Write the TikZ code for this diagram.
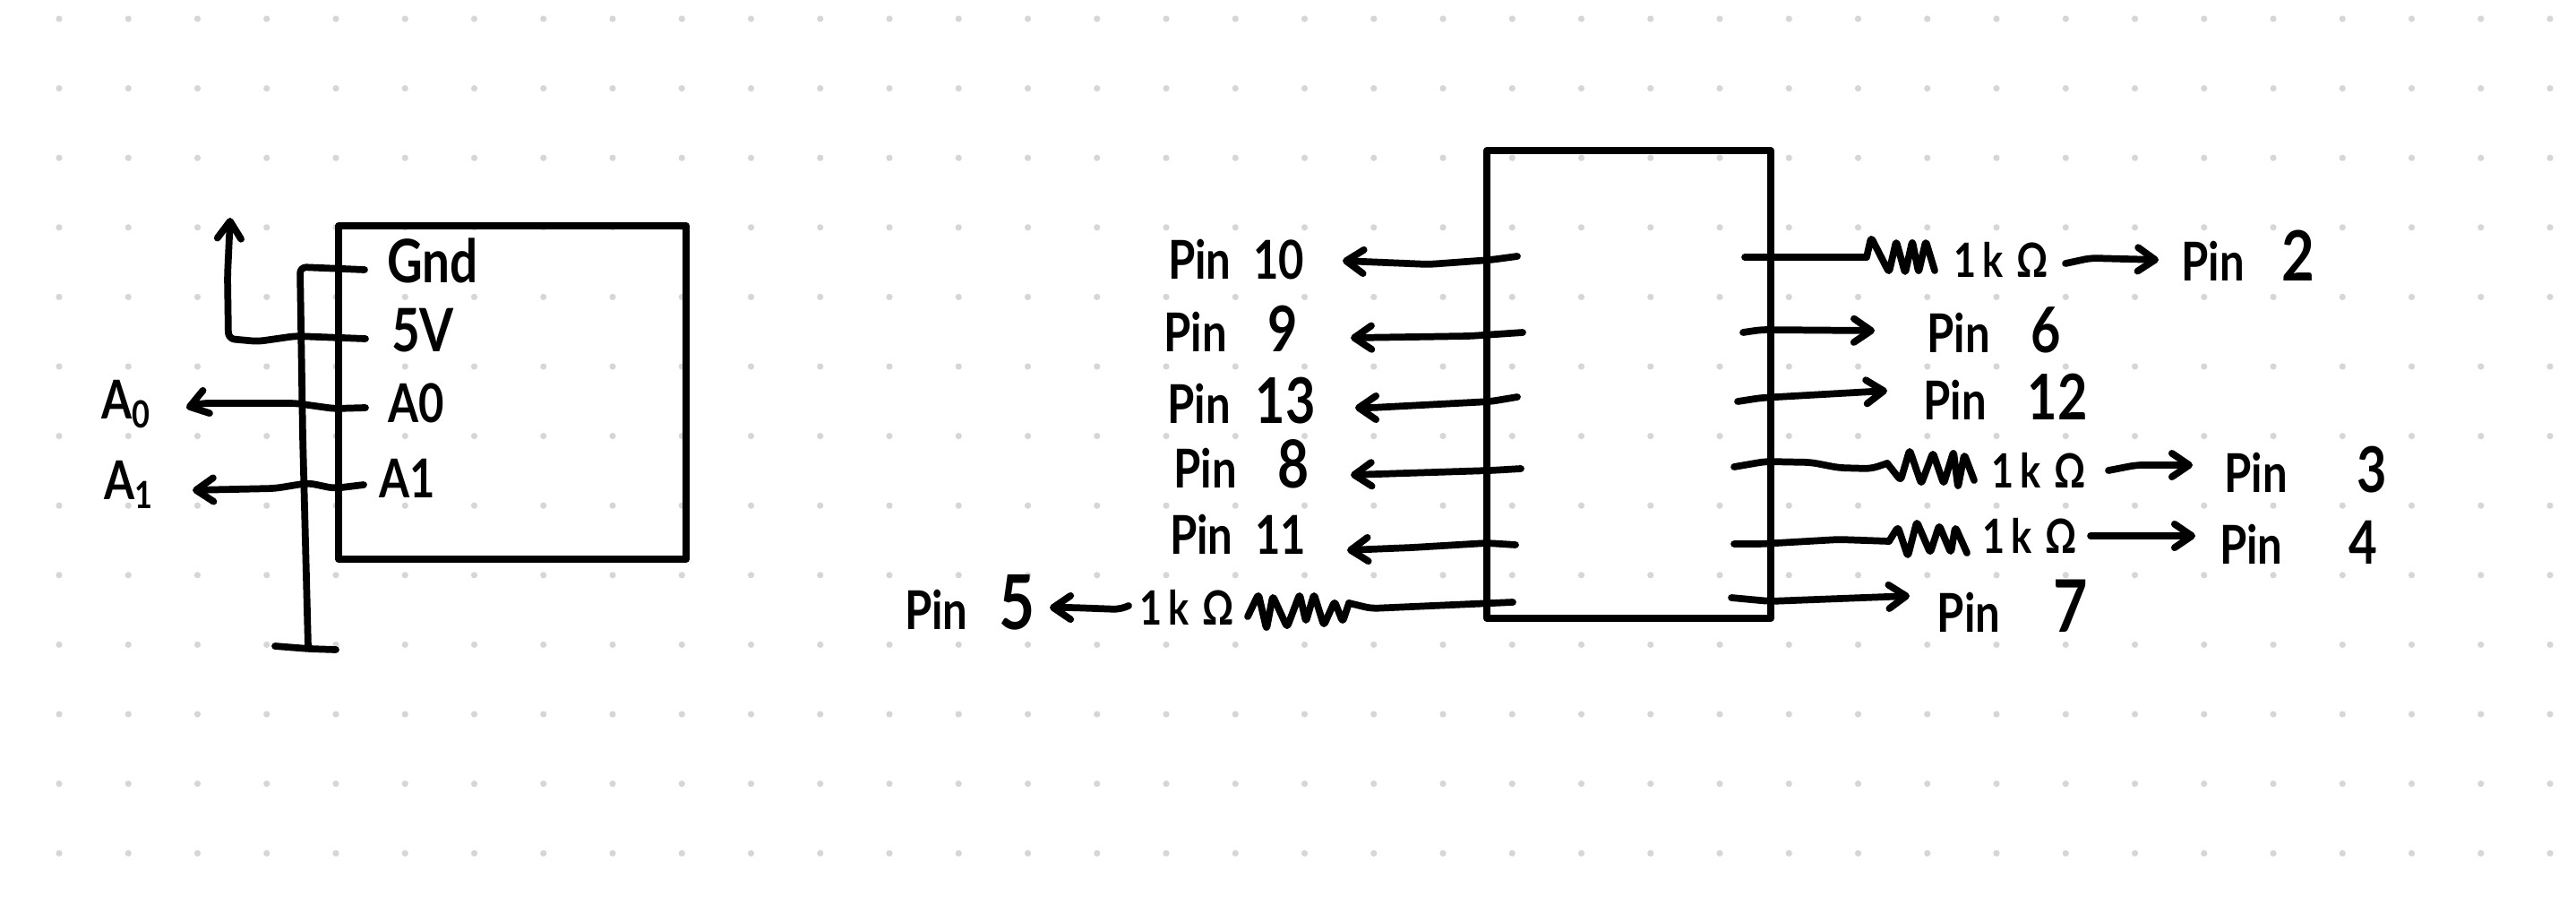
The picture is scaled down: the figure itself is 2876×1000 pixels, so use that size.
\documentclass[tikz,border=0pt]{standalone}
\usepackage{fontspec}
\usepackage{xcolor}
\setmainfont{Lato}[FakeStretch=0.82]
\usetikzlibrary{
    arrows.meta,
    positioning
}
\definecolor{griddotC}{RGB}{214,214,214}
\newcommand{\dg}[2]{{\fontsize{#1}{#1}\selectfont #2}}
\tikzset{
  griddot/.style = {fill=griddotC},
  chip/.style    = {draw, line width=2.2pt, line join=round, outer sep=0pt, inner sep=0pt},
  wire/.style    = {line width=2.2pt, line cap=round, line join=round, rounded corners=2pt},
  zig/.style     = {line width=2.2pt, line cap=round, line join=round, rounded corners=1pt},
  lbl/.style     = {inner sep=0pt, font=\fontsize{17}{19}\selectfont\bfseries},
  slbl/.style    = {inner sep=0pt, font=\fontsize{15}{17}\selectfont\bfseries}
}
\newcommand{\ohm}{1\hspace{2pt}k\hspace{4pt}Ω}
\begin{document}
\begin{tikzpicture}[x=0.01cm, y=-0.01cm,
    >={Straight Barb[round, length=5.5pt, width=7.5pt]}]
  \useasboundingbox (0,0) rectangle (2876,1000);

  %% ── Dot grid ──────────────────────────────────────────────────
  \foreach \col in {0,...,36} {
    \foreach \row in {0,...,12} {
      \fill[griddot] ({66+77.25*\col},{21+77.6*\row}) circle (0.036cm);
    }
  }

  %% ── Boxes ─────────────────────────────────────────────────────
  \node[chip, minimum width=3.88cm, minimum height=3.72cm] (sensor) at (572,438) {};
  \node[chip, minimum width=3.17cm, minimum height=5.22cm] (driver) at (1818.5,429) {};

  %% ── Left box labels ───────────────────────────────────────────
  \node[lbl, font=\fontsize{19}{21}\selectfont\bfseries] (gndL) at (483,291) {Gnd};
  \node[lbl, font=\fontsize{19}{21}\selectfont\bfseries] (fiveL) at (472,369) {5V};
  \node[lbl] (aZeroL) at (465,450) {A0};
  \node[lbl] (aOneL) at (455,534) {A1};
  \node[lbl] (aZeroOut) at (141,451) {A\textsubscript{0}};
  \node[lbl] (aOneOut) at (144,541) {A\textsubscript{1}};

  %% ── Left box wires ────────────────────────────────────────────
  \coordinate (gndIn)   at (407,301);
  \coordinate (gndBot)  at (344,722);
  \coordinate (gndBarA) at (307,721);
  \coordinate (gndBarB) at (375,725);
  \coordinate (fiveIn)  at (408,378);
  \coordinate (fiveTip) at (257,243);
  \coordinate (aZeroIn) at (408,455);
  \coordinate (aZeroTip) at (208,455);
  \coordinate (aOneIn)  at (406,541);
  \coordinate (aOneTip) at (215,547);

  \draw[wire] (gndIn) -- (335,298) -- (338,487) -- (gndBot);
  \draw[wire] (gndBarA) -- (345,724) -- (gndBarB);
  \draw[wire, ->] (fiveIn) -- (330,375) -- (288,381) -- (255,378) -- (254,308) -- (fiveTip);
  \draw[wire, ->] (aZeroIn) -- (373,456) -- (330,450) -- (225,450) -- (aZeroTip);
  \draw[wire, ->] (aOneIn) -- (373,545) -- (344,539) -- (307,545) -- (aOneTip);

  %% ── Right box, left side labels ───────────────────────────────
  \node[lbl] (pinTen) at (1380,290) {Pin\hspace{7pt}10};
  \node[lbl] (pinNine) at (1374,367) {Pin\hspace{13pt}\dg{20}{9}};
  \node[lbl] (pinThirteen) at (1386,447) {Pin\hspace{8pt}\dg{20}{13}};
  \node[lbl] (pinEight) at (1386,518) {Pin\hspace{13pt}\dg{21}{8}};
  \node[lbl] (pinEleven) at (1382,596) {Pin\hspace{7pt}11};
  \node[lbl] (pinFive) at (1083,672) {Pin\hspace{10pt}\dg{24}{5}};
  \node[slbl] (ohmFive) at (1325,678) {\ohm};

  %% ── Right box, left side wires ────────────────────────────────
  \coordinate (tenIn)      at (1694,286);
  \coordinate (tenTip)     at (1499,291);
  \coordinate (nineIn)     at (1700,371);
  \coordinate (nineTip)    at (1508,377);
  \coordinate (thirteenIn) at (1694,443);
  \coordinate (thirteenTip) at (1513,455);
  \coordinate (eightIn)    at (1698,523);
  \coordinate (eightTip)   at (1508,530);
  \coordinate (elevenIn)   at (1692,608);
  \coordinate (elevenTip)  at (1504,614);
  \coordinate (fiveOutIn)  at (1689,672);
  \coordinate (fiveRes)    at (1506,673);
  \coordinate (fiveFrom)   at (1260,676);
  \coordinate (fiveOutTip) at (1172,678);

  \draw[wire, ->] (tenIn) -- (1664,290) -- (1595,295) -- (tenTip);
  \draw[wire, ->] (nineIn) -- (1641,375) -- (1577,376) -- (nineTip);
  \draw[wire, ->] (thirteenIn) -- (1664,448) -- (1531,455) -- (thirteenTip);
  \draw[wire, ->] (eightIn) -- (1664,525) -- (eightTip);
  \draw[wire, ->] (elevenIn) -- (1660,606) -- (1577,611) -- (elevenTip);
  \draw[wire] (fiveOutIn) -- (1531,679) -- (fiveRes);
  \draw[zig] (fiveRes) -- (1499,694) -- (1490,671) -- (1478,698) -- (1467,663)
    -- (1458,694) -- (1451,663) -- (1437,700) -- (1421,665) -- (1414,702)
    -- (1405,663) -- (1393,688);
  \draw[wire, ->] (fiveFrom) -- (1250,680) -- (1196,678) -- (fiveOutTip);

  %% ── Right box, right side labels ──────────────────────────────
  \node[slbl] (ohmTwo) at (2234,290) {\ohm};
  \node[lbl] (pinTwo) at (2510,285) {Pin\hspace{12pt}\dg{22}{2}};
  \node[lbl] (pinSix) at (2226,368) {Pin\hspace{13pt}\dg{20}{6}};
  \node[lbl] (pinTwelve) at (2239,443) {Pin\hspace{13pt}\dg{20}{12}};
  \node[slbl] (ohmThree) at (2276,525) {\ohm};
  \node[lbl] (pinThree) at (2574,524) {Pin\hspace{22pt}\dg{20}{3}};
  \node[slbl] (ohmFour) at (2266,598) {\ohm};
  \node[lbl] (pinFour) at (2566,605) {Pin\hspace{21pt}\dg{19}{4}};
  \node[lbl] (pinSeven) at (2247,676) {Pin\hspace{17pt}\dg{23}{7}};

  %% ── Right box, right side wires ───────────────────────────────
  \coordinate (twoIn)     at (1948,287);
  \coordinate (twoRes)    at (2084,287);
  \coordinate (twoFrom)   at (2306,294);
  \coordinate (twoTip)    at (2410,290);
  \coordinate (sixIn)     at (1946,371);
  \coordinate (sixTip)    at (2093,369);
  \coordinate (twelveIn)  at (1940,448);
  \coordinate (twelveTip) at (2107,436);
  \coordinate (threeIn)   at (1936,521);
  \coordinate (threeRes)  at (2107,517);
  \coordinate (threeFrom) at (2354,525);
  \coordinate (threeTip)  at (2448,519);
  \coordinate (fourIn)    at (1936,607);
  \coordinate (fourRes)   at (2109,604);
  \coordinate (fourFrom)  at (2334,598);
  \coordinate (fourTip)   at (2451,598);
  \coordinate (sevenIn)   at (1933,667);
  \coordinate (sevenTip)  at (2132,665);

  \draw[wire] (twoIn) -- (twoRes);
  \draw[zig] (twoRes) -- (2089,265) -- (2109,304) -- (2117,269) -- (2127,305)
    -- (2135,269) -- (2142,304) -- (2150,269) -- (2160,302);
  \draw[wire, ->] (twoFrom) -- (2334,288) -- (twoTip);
  \draw[wire, ->] (sixIn) -- (1966,368) -- (sixTip);
  \draw[wire, ->] (twelveIn) -- (1966,444) -- (twelveTip);
  \draw[wire] (threeIn) -- (1971,515) -- (2022,516) -- (2053,522) -- (2089,523) -- (threeRes);
  \draw[zig] (threeRes) -- (2122,536) -- (2132,502) -- (2145,540) -- (2158,505)
    -- (2170,540) -- (2181,504) -- (2186,544) -- (2193,507) -- (2204,536);
  \draw[wire, ->] (threeFrom) -- (2385,519) -- (threeTip);
  \draw[wire] (fourIn) -- (1966,607) -- (2053,602) -- (fourRes);
  \draw[zig] (fourRes) -- (2119,588) -- (2130,621) -- (2140,582) -- (2155,617)
    -- (2165,586) -- (2178,617) -- (2183,588) -- (2196,617);
  \draw[wire, ->] (fourFrom) -- (fourTip);
  \draw[wire, ->] (sevenIn) -- (1976,671) -- (sevenTip);

\end{tikzpicture}
\end{document}
